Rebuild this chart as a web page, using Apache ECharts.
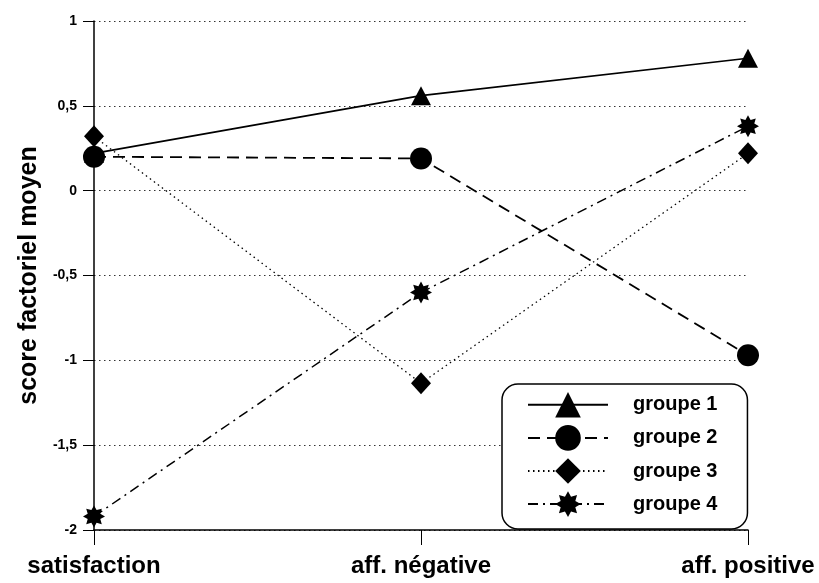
<!DOCTYPE html>
<html>
<head>
<meta charset="utf-8">
<script src="https://cdn.jsdelivr.net/npm/echarts@6/dist/echarts.min.js"></script>
<style>
  html, body { margin: 0; padding: 0; background: #fff; }
  #chart { width: 819px; height: 583px; }
</style>
</head>
<body>
<div id="chart"></div>
<script>
// data
const categories = ['satisfaction', 'aff. négative', 'aff. positive'];
const groupe1 = [0.22, 0.56, 0.78];
const groupe2 = [0.2, 0.19, -0.97];
const groupe3 = [0.32, -1.135, 0.22];
const groupe4 = [-1.92, -0.6, 0.38];

const FONT = '"Liberation Sans", Arial, sans-serif';

// 8 point star used for groupe 4
const starPath = (() => {
  let d = '';
  for (let i = 0; i < 16; i++) {
    const r = i % 2 === 0 ? 1 : 0.62;
    const a = (Math.PI / 8) * i - Math.PI / 2;
    d += (i === 0 ? 'M' : 'L') + (r * Math.cos(a)).toFixed(3) + ' ' + (r * Math.sin(a)).toFixed(3);
  }
  return 'path://' + d + 'Z';
})();

const makeSeries = (name, data, symbol, symbolSize, lineStyle) => ({
  name,
  type: 'line',
  data,
  symbol,
  symbolSize,
  showAllSymbol: true,
  itemStyle: { color: '#000', borderWidth: 0 },
  lineStyle: Object.assign({ color: '#000' }, lineStyle),
  emphasis: { disabled: true },
});

const chart = echarts.init(document.getElementById('chart'), null, { renderer: 'canvas' });

chart.setOption({
  animation: false,
  backgroundColor: '#fff',
  grid: { left: 94, right: 71, top: 21, bottom: 53, containLabel: false },
  legend: {
    orient: 'vertical',
    left: 502,
    top: 384,
    padding: [8, 30, 12, 25],
    itemWidth: 80,
    itemHeight: 32,
    itemGap: 7.5,
    backgroundColor: '#fff',
    borderColor: '#000',
    borderWidth: 1.5,
    borderRadius: 16,
    textStyle: {
      fontFamily: FONT,
      fontWeight: 'bold',
      fontSize: 20,
      color: '#000',
      padding: [0, 0, 0, 20],
    },
    data: ['groupe 1', 'groupe 2', 'groupe 3', 'groupe 4'],
  },
  xAxis: {
    type: 'category',
    data: categories,
    boundaryGap: false,
    axisLine: { onZero: false, lineStyle: { color: '#000', width: 1.5 } },
    axisTick: { length: 15, lineStyle: { color: '#000', width: 1 } },
    axisLabel: {
      margin: 24,
      fontFamily: FONT,
      fontWeight: 'bold',
      fontSize: 24,
      color: '#000',
    },
    splitLine: { show: false },
  },
  yAxis: {
    type: 'value',
    min: -2,
    max: 1,
    interval: 0.5,
    name: 'score factoriel moyen',
    nameLocation: 'middle',
    nameGap: 50,
    nameTextStyle: { fontFamily: FONT, fontWeight: 'bold', fontSize: 25, color: '#000' },
    axisLine: { show: true, lineStyle: { color: '#000', width: 1.5 } },
    axisTick: { show: true, length: 11, lineStyle: { color: '#000', width: 1 } },
    axisLabel: {
      margin: 17,
      fontFamily: FONT,
      fontWeight: 'bold',
      fontSize: 14,
      color: '#000',
      formatter: (v) => String(v).replace('.', ','),
    },
    splitLine: { show: true, lineStyle: { color: '#333', width: 1, type: [1.5, 3.5] } },
  },
  series: [
    makeSeries('groupe 1', groupe1, 'triangle', [20, 19], { width: 1.6, type: 'solid' }),
    makeSeries('groupe 2', groupe2, 'circle', 22, { width: 1.8, type: [12, 7] }),
    makeSeries('groupe 3', groupe3, 'diamond', [20, 22], { width: 1.3, type: [1.5, 3.5] }),
    makeSeries('groupe 4', groupe4, starPath, 22, { width: 1.5, type: [10, 5, 2, 5] }),
  ],
});
</script>
</body>
</html>
